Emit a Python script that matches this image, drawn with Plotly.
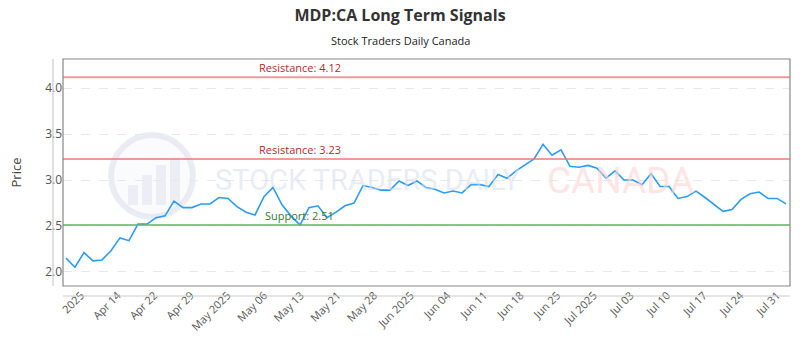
import numpy as np
import plotly.graph_objects as go

title = "MDP:CA Long Term Signals"
subtitle = "Stock Traders Daily Canada"

prices = [2.15, 2.05, 2.21, 2.12, 2.13, 2.23, 2.37, 2.34, 2.52, 2.52,
          2.59, 2.61, 2.77, 2.70, 2.70, 2.74, 2.74, 2.81, 2.80, 2.71,
          2.65, 2.62, 2.82, 2.92, 2.73, 2.61, 2.51, 2.70, 2.72, 2.59,
          2.65, 2.72, 2.75, 2.94, 2.92, 2.89, 2.89, 2.99, 2.94, 2.99,
          2.92, 2.90, 2.86, 2.88, 2.86, 2.95, 2.95, 2.93, 3.06, 3.02,
          3.10, 3.17, 3.23, 3.39, 3.27, 3.33, 3.15, 3.14, 3.16, 3.13,
          3.02, 3.10, 3.00, 3.00, 2.95, 3.07, 2.93, 2.93, 2.80, 2.82,
          2.88, 2.81, 2.74, 2.66, 2.68, 2.79, 2.85, 2.87, 2.80, 2.80,
          2.74]

tick_labels = ["2025", "Apr 14", "Apr 22", "Apr 29", "May 2025", "May 06",
               "May 13", "May 21", "May 28", "Jun 2025", "Jun 04", "Jun 11",
               "Jun 18", "Jun 25", "Jul 2025", "Jul 03", "Jul 10", "Jul 17",
               "Jul 24", "Jul 31"]

resistance_levels = [4.12, 3.23]
support_levels = [2.51]

x = list(range(len(prices)))

fig = go.Figure()
fig.add_trace(go.Scatter(x=x, y=prices, mode="lines",
                         line=dict(color="#2b9cf2", width=1.6),
                         hoverinfo="y", showlegend=False))

W, H = 727.0, 227.0
def px(xp):
    return (xp - 63) / W
def py(yp):
    return (286 - yp) / H

# watermark
fig.add_shape(type="circle", xref="paper", yref="paper", layer="below",
              x0=px(111), x1=px(193), y0=py(217), y1=py(135),
              line=dict(color="rgba(214,220,232,0.5)", width=6),
              fillcolor="rgba(242,244,249,0.4)")
for bx0, bx1, btop in [(128, 138, 185), (142, 152, 175), (156, 166, 165), (170, 180, 158)]:
    fig.add_shape(type="rect", xref="paper", yref="paper", layer="below",
                  x0=px(bx0), x1=px(bx1), y0=py(205), y1=py(btop),
                  line=dict(width=0), fillcolor="rgba(218,223,236,0.45)")
fig.add_annotation(xref="paper", yref="paper", x=px(522), y=py(180), xanchor="right",
                   text="STOCK TRADERS DAILY", showarrow=False,
                   font=dict(family="Roboto, sans-serif", size=29, color="rgba(214,221,236,0.55)"))
fig.add_annotation(xref="paper", yref="paper", x=px(545), y=py(180), xanchor="left",
                   text="CANADA", showarrow=False,
                   font=dict(family="Roboto, sans-serif", size=37, color="rgba(252,212,212,0.6)"))

label_x = 26
for r in resistance_levels:
    fig.add_shape(type="line", xref="paper", yref="y", x0=0, x1=1, y0=r, y1=r,
                  line=dict(color="rgba(235,120,120,0.75)", width=2), layer="above")
    fig.add_annotation(x=label_x, y=r, xref="x", yref="y", text=f"Resistance: {r:.2f}",
                       showarrow=False, yanchor="bottom",
                       font=dict(family="Open Sans, sans-serif", size=11, color="#b22b2b"))
for s in support_levels:
    fig.add_shape(type="line", xref="paper", yref="y", x0=0, x1=1, y0=s, y1=s,
                  line=dict(color="rgba(110,180,110,0.8)", width=2), layer="above")
    fig.add_annotation(x=label_x, y=s, xref="x", yref="y", text=f"Support: {s:.2f}",
                       showarrow=False, yanchor="bottom",
                       font=dict(family="Open Sans, sans-serif", size=11, color="#2e7d32"))

# frame and offset axis lines
fig.add_shape(type="rect", xref="paper", yref="paper", x0=0, x1=1, y0=0, y1=1,
              line=dict(color="#888888", width=1.2), layer="above")
fig.add_shape(type="line", xref="paper", yref="paper", x0=px(53), x1=px(53), y0=0, y1=1,
              line=dict(color="#cccccc", width=1.2))
fig.add_shape(type="line", xref="paper", yref="paper", x0=0, x1=1, y0=py(296), y1=py(296),
              line=dict(color="#cccccc", width=1.2))

fig.add_annotation(xref="paper", yref="paper", x=px(400), y=py(40), yanchor="middle",
                   text=subtitle, showarrow=False,
                   font=dict(family="Open Sans, sans-serif", size=11, color="#222222"))

tickvals = list(np.linspace(1.67, 79.0, len(tick_labels)))

fig.update_layout(
    width=800, height=350,
    margin=dict(l=63, r=10, t=59, b=64),
    paper_bgcolor="white", plot_bgcolor="white",
    title=dict(text=f"<b>{title}</b>", x=0.5, xanchor="center", y=0.955, yanchor="middle",
               font=dict(family="Open Sans, sans-serif", size=16, color="#333333")),
    xaxis=dict(range=[-0.33, 80.44], showgrid=False, zeroline=False,
               tickmode="array", tickvals=tickvals, ticktext=tick_labels,
               tickangle=-45, ticks="", showline=False,
               tickfont=dict(family="Open Sans, sans-serif", size=11, color="#555555")),
    yaxis=dict(range=[1.846, 4.319], tickvals=[2.0, 2.5, 3.0, 3.5, 4.0],
               ticktext=["2.0", "2.5", "3.0", "3.5", "4.0"],
               showgrid=True, gridcolor="#e8e8e8", griddash="dash", gridwidth=1,
               zeroline=False, showline=False, ticks="",
               tickfont=dict(family="Open Sans, sans-serif", size=12, color="#555555"),
               title=dict(text="Price", standoff=20,
                          font=dict(family="Open Sans, sans-serif", size=13, color="#444444"))),
)

fig.write_html("out.html")
